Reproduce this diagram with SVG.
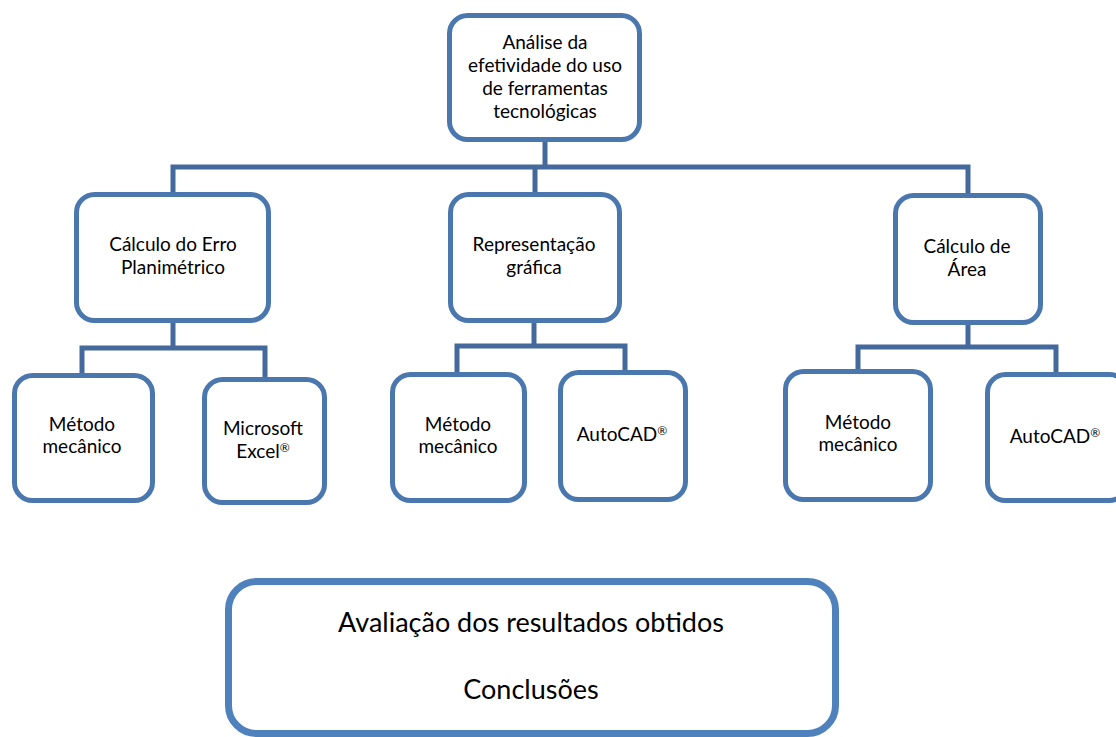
<svg xmlns="http://www.w3.org/2000/svg" width="1116" height="737" viewBox="0 0 1116 737">
<style>
.box{fill:#fff;stroke:#4A77AE;stroke-width:5}
.big{fill:#fff;stroke:#4F81BD;stroke-width:7}
.ln{fill:none;stroke:#44699C;stroke-width:5}
text{font-family:Lato,"Liberation Sans",sans-serif;fill:#000;text-anchor:middle}
.t{font-size:19px}
.tb{font-size:27px}
.r{font-size:12px}
</style>
<rect width="1116" height="737" fill="#fff"/>
<g id="connectors">
<polyline class="ln" points="545,140 545,167"/>
<polyline class="ln" points="173,194 173,167 968,167 968,195"/>
<polyline class="ln" points="535,167 535,194"/>
<polyline class="ln" points="82,375 82,348 265,348 265,378"/>
<polyline class="ln" points="173,321 173,348"/>
<polyline class="ln" points="457,374 457,346 625,346 625,372"/>
<polyline class="ln" points="534,321 534,346"/>
<polyline class="ln" points="858,371 858,347 1056,347 1056,374"/>
<polyline class="ln" points="968,323 968,347"/>
</g>
<g id="n-root"><rect class="box" x="449.5" y="15.5" width="190" height="124" rx="18"/>
<text class="t" x="545" y="49">Análise da</text><text class="t" x="545" y="72">efetividade do uso</text><text class="t" x="545" y="95">de ferramentas</text><text class="t" x="545" y="118">tecnológicas</text></g>
<g id="n-erro"><rect class="box" x="76.5" y="194.5" width="192" height="126" rx="18"/>
<text class="t" x="173" y="251">Cálculo do Erro</text><text class="t" x="173" y="274">Planimétrico</text></g>
<g id="n-rep"><rect class="box" x="450.5" y="194.5" width="169" height="126" rx="18"/>
<text class="t" x="534" y="251">Representação</text><text class="t" x="534" y="274">gráfica</text></g>
<g id="n-area"><rect class="box" x="895.5" y="195.5" width="145" height="127" rx="18"/>
<text class="t" x="967" y="253">Cálculo de</text><text class="t" x="967" y="276">Área</text></g>
<g id="n-m1"><rect class="box" x="14.5" y="375.5" width="138" height="125" rx="18"/>
<text class="t" x="82" y="431">Método</text><text class="t" x="82" y="453">mecânico</text></g>
<g id="n-excel"><rect class="box" x="204.5" y="379.5" width="120" height="123" rx="18"/>
<text class="t" x="263" y="435">Microsoft</text><text class="t" x="263" y="458">Excel<tspan class="r" dy="-6">®</tspan></text></g>
<g id="n-m2"><rect class="box" x="392.5" y="374.5" width="132" height="126" rx="18"/>
<text class="t" x="458" y="431">Método</text><text class="t" x="458" y="453">mecânico</text></g>
<g id="n-cad1"><rect class="box" x="560.5" y="372.5" width="125" height="127" rx="18"/>
<text class="t" x="622" y="441">AutoCAD<tspan class="r" dy="-6">®</tspan></text></g>
<g id="n-m3"><rect class="box" x="785.5" y="371.5" width="145" height="128" rx="18"/>
<text class="t" x="858" y="429">Método</text><text class="t" x="858" y="451">mecânico</text></g>
<g id="n-cad2"><rect class="box" x="987.5" y="374.5" width="140" height="126" rx="18"/>
<text class="t" x="1055" y="443">AutoCAD<tspan class="r" dy="-6">®</tspan></text></g>
<g id="n-final"><rect class="big" x="228.5" y="581.5" width="607" height="152" rx="28"/>
<text class="tb" x="531" y="632">Avaliação dos resultados obtidos</text><text class="tb" x="531" y="699">Conclusões</text></g>
</svg>
